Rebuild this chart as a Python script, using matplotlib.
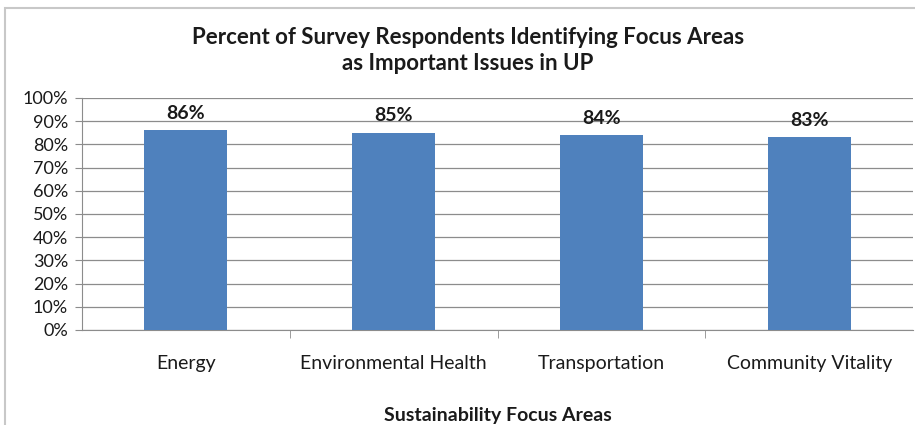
import matplotlib.pyplot as plt
from matplotlib.patches import Rectangle
from matplotlib.ticker import FixedLocator, PercentFormatter

categories = ["Energy", "Environmental Health", "Transportation", "Community Vitality"]
percents = [86, 85, 84, 83]
y_ticks = list(range(0, 101, 10))

plt.rcParams['font.family'] = ['Lato', 'DejaVu Sans']

fig = plt.figure(figsize=(9.15, 4.25), dpi=100)
# outer chart border (right and bottom edges are cut off in the original)
fig.patches.append(Rectangle((5 / 915, -0.05), 1.0, 1.05 - 8 / 425, transform=fig.transFigure,
                             fill=False, edgecolor="#c8c8c8", linewidth=1.5))

ax = fig.add_axes([82 / 915, 95 / 425, 831 / 915, 232 / 425])
x = list(range(len(categories)))
ax.bar(x, percents, width=0.4, color="#4F81BD", zorder=3)
for xi, p in zip(x, percents):
    ax.text(xi, p + 5, f"{p}%", ha="center", va="baseline", fontsize=14, fontweight="bold",
            color="#1a1a1a")

ax.set_xlim(-0.5, len(categories) - 0.5)
ax.set_ylim(0, 100)
ax.set_yticks(y_ticks)
ax.yaxis.set_major_formatter(PercentFormatter(decimals=0))
ax.grid(axis="y", color="#8c8c8c", linewidth=0.9, zorder=0)

ax.set_xticks(x)
ax.set_xticklabels(categories, fontsize=14, color="#1a1a1a")
ax.xaxis.set_minor_locator(FixedLocator([i + 0.5 for i in x[:-1]]))
ax.tick_params(axis="x", which="major", length=0, pad=18)
ax.tick_params(axis="x", which="minor", length=6, color="#8c8c8c")
ax.tick_params(axis="y", length=5, color="#8c8c8c", labelsize=13, labelcolor="#1a1a1a", pad=5)

for side in ["top", "right"]:
    ax.spines[side].set_visible(False)
ax.spines["left"].set_color("#8c8c8c")
ax.spines["bottom"].set_color("#8c8c8c")

ax.set_xlabel("Sustainability Focus Areas", fontsize=14, fontweight="bold", labelpad=25,
              color="#1a1a1a")
fig.text(468 / 915, 1 - 44 / 425, "Percent of Survey Respondents Identifying Focus Areas",
         ha="center", va="baseline", fontsize=16, fontweight="bold", color="#1a1a1a")
fig.text(468 / 915, 1 - 70 / 425, "as Important Issues in UP",
         ha="center", va="baseline", fontsize=16, fontweight="bold", color="#1a1a1a")

plt.savefig("out.png", dpi=100)
